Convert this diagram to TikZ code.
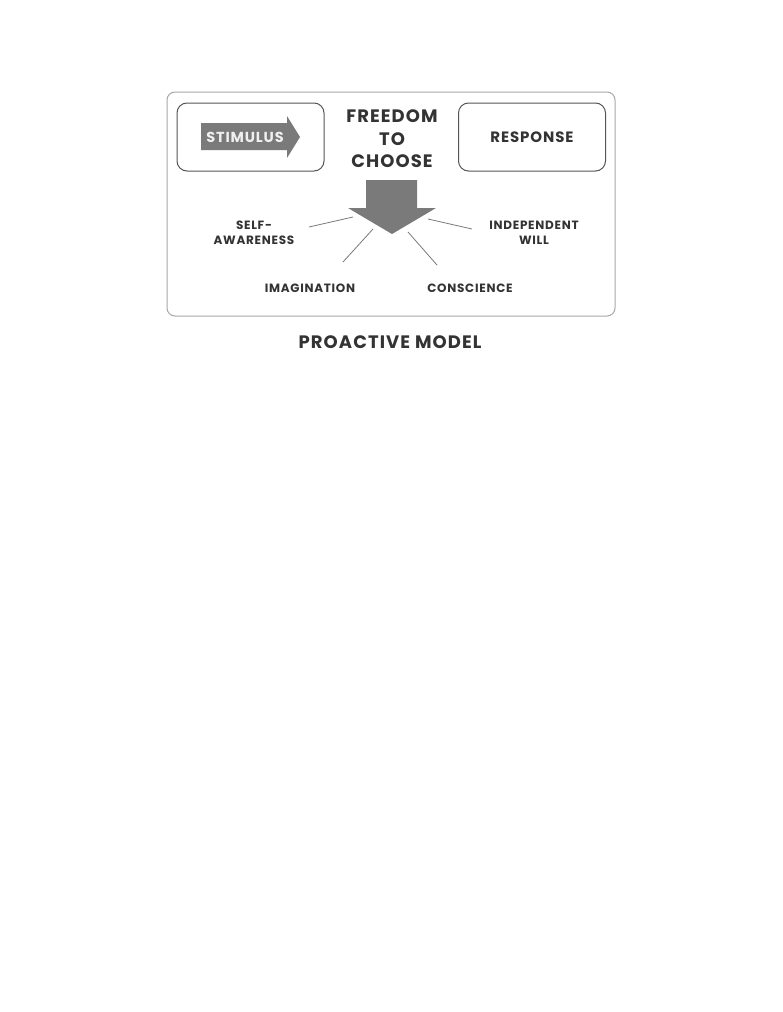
\documentclass[tikz,border=0pt]{standalone}
\usepackage{fontspec}
\setmainfont{Poppins}[LetterSpace=6]
\usetikzlibrary{positioning}
\definecolor{txtgray}{HTML}{333333}
\definecolor{arrgray}{HTML}{7A7A7A}
\definecolor{boxgray}{HTML}{555555}
\definecolor{panelgray}{HTML}{A8A8A8}
\tikzset{
	panel/.style={draw=panelgray, line width=1pt, rounded corners=8pt},
	choicebox/.style={draw=boxgray, line width=1pt, rounded corners=10pt, minimum width=147pt, minimum height=68pt},
	big/.style={text=txtgray, font=\bfseries\fontsize{18}{22.5}\selectfont, align=center, inner sep=0pt},
	boxtext/.style={text=txtgray, font=\bfseries\fontsize{15}{18}\selectfont, inner sep=0pt},
	label/.style={text=txtgray, font=\bfseries\fontsize{12}{15}\selectfont, align=center, inner sep=0pt},
	ray/.style={draw=arrgray, line width=0.8pt},
}

\begin{document}
\begin{tikzpicture}[x=1pt, y=-1pt]
	\useasboundingbox[fill=white] (0,0) rectangle (782,1012);
	
	\draw[panel] (167,92) rectangle (615,316);
	
	\node (stim) [choicebox] at (250.5,137) {};
	\node (resp) [choicebox] at (532,137) {};
	
	% arrows
	\fill[arrgray] (201,123) -- (287,123) -- (287,116) -- (300,137) -- (287,158) -- (287,150) -- (201,150) -- cycle;
	\fill[arrgray] (366,180) -- (417,180) -- (417,208) -- (436,208) -- (392,234) -- (348,208) -- (366,208) -- cycle;
	\coordinate (tip) at (392,234);
	
	\node (stimtxt) [boxtext, text=white!94!black, font=\bfseries\fontsize{14.5}{18}\selectfont] at (245,137) {STIMULUS};
	\node (resptxt) [boxtext] at (532,137) {RESPONSE};
	\node (free) [big] at (392,139) {FREEDOM\\TO\\CHOOSE};
	
	\node (self) [label] at (254,233) {SELF-\\AWARENESS};
	\node (indep) [label] at (534,233) {INDEPENDENT\\WILL};
	\node (imag) [label] at (310,288) {IMAGINATION};
	\node (consc) [label] at (470,288) {CONSCIENCE};
	
	\node (title) [big] at (390,342) {PROACTIVE MODEL};
	
	\coordinate (r1a) at (309,227);
	\coordinate (r1b) at (353,217);
	\coordinate (r2a) at (343,262);
	\coordinate (r2b) at (373,229);
	\coordinate (r3a) at (408,232);
	\coordinate (r3b) at (437,265);
	\coordinate (r4a) at (428,219);
	\coordinate (r4b) at (472,229);
	
	\begin{scope}[ray]
		\draw (r1a) -- (r1b);
		\draw (r2a) -- (r2b);
		\draw (r3a) -- (r3b);
		\draw (r4a) -- (r4b);
	\end{scope}
	
\end{tikzpicture}
\end{document}
